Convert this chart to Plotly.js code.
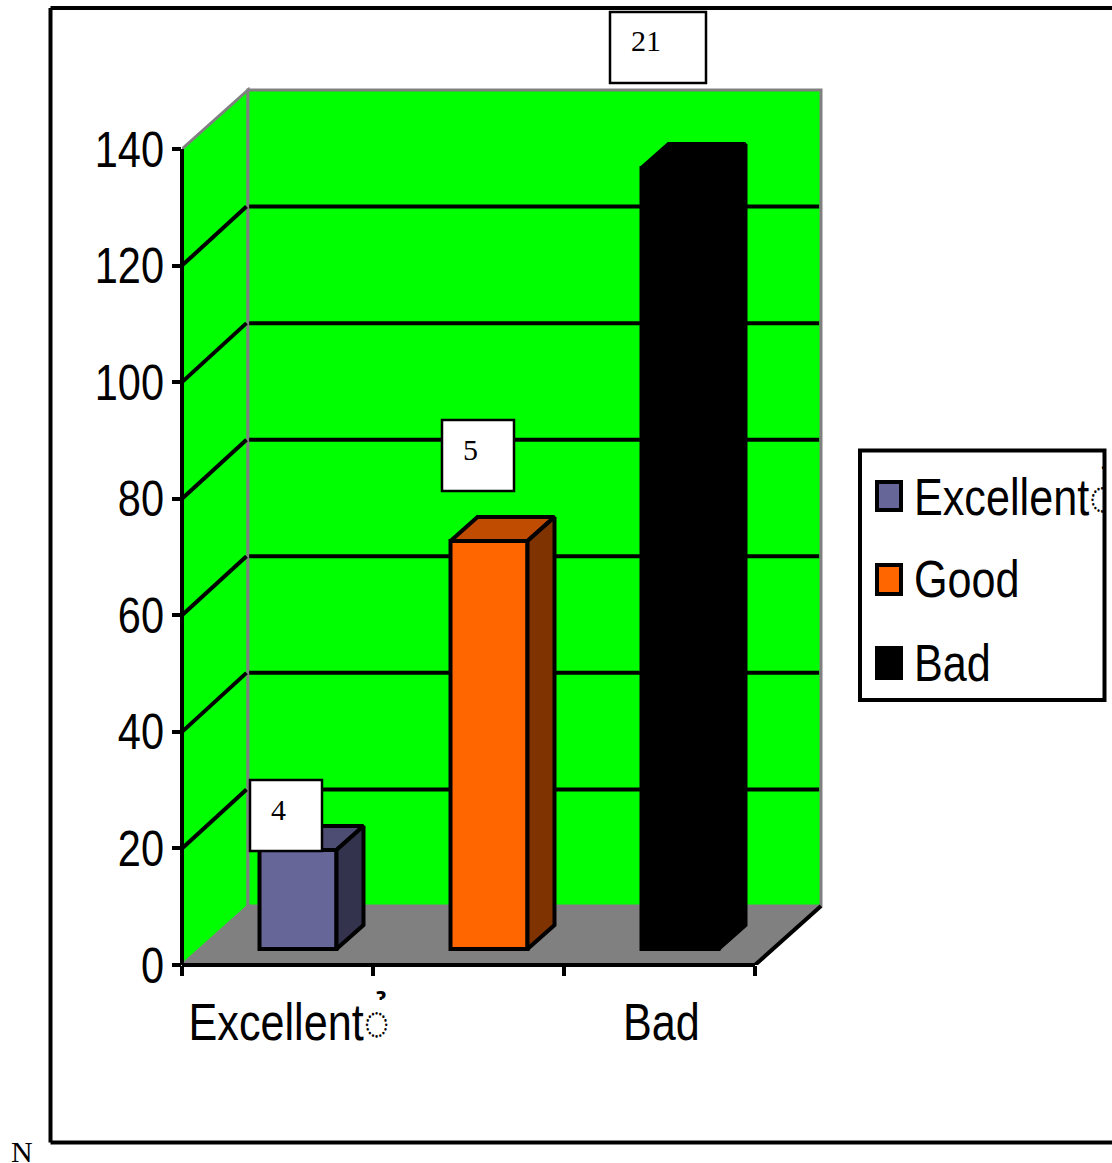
<!DOCTYPE html>
<html>
<head>
<meta charset="utf-8">
<script src="https://cdn.plot.ly/plotly-3.0.1.min.js"></script>
<style>html,body{margin:0;padding:0;background:#fff}</style>
</head>
<body>
<div id="chart" style="width:1112px;height:1163px"></div>
<script>
// Ratings and their bar heights
const categories = ["Excellent", "Good", "Bad"];
const values = [17, 70, 134];
const frontColors = ["#666699", "#ff6600", "#000000"];
const topColors = ["#4d4d73", "#bf4c00", "#000000"];
const sideColors = ["#33334d", "#7f3300", "#000000"];
const boxLabels = ["4", "5", "21"];
const yTicks = [0, 20, 40, 60, 80, 100, 120, 140];
const excellentLabel = "Excellent\u25CC\u0309";

// Plot frame in page pixels; the y axis sits on its left edge, the floor on its bottom edge
const W = 1112, H = 1163, L = 182, B = 965, R = 825, T = 87;
const pxPerCat = 191, pxPerUnit = 816 / 140;
const xMin = -0.5;
const paperX = p => (p - L) / (R - L);
const paperY = p => (B - p) / (B - T);

// Oblique projection offsets of the room and of each column, in axis units
const roomDx = 66 / pxPerCat, roomDy = 59 / pxPerUnit;
const barDx = 27 / pxPerCat, barDy = 24 / pxPerUnit;
const barShift = 20.5 / pxPerCat, barBase = 16 / pxPerUnit, barWidth = 77 / pxPerCat;
const xEnd = xMin + 3, yTop = 140;

const sans = '"Liberation Sans", Arial, sans-serif';
const serif = '"Liberation Serif", "Times New Roman", serif';
const poly = pts => "M" + pts.map(p => p[0] + "," + p[1]).join("L") + "Z";

const shapes = [];
const room = (path, fill, color, width) => shapes.push({
  type: "path", xref: "x", yref: "y", layer: "below", path,
  fillcolor: fill, line: { color, width }
});
// Side wall, back wall, floor
room(poly([[xMin, 0], [xMin + roomDx, roomDy], [xMin + roomDx, yTop + roomDy], [xMin, yTop]]), "#00ff00", "#808080", 3);
room(poly([[xMin + roomDx, roomDy], [xEnd + roomDx, roomDy], [xEnd + roomDx, yTop + roomDy], [xMin + roomDx, yTop + roomDy]]), "#00ff00", "#808080", 3);
room(poly([[xMin, 0], [xEnd, 0], [xEnd + roomDx, roomDy], [xMin + roomDx, roomDy]]), "#808080", "#808080", 1);

// Gridlines fold from the side wall onto the back wall
yTicks.slice(1, -1).forEach(v => {
  const line = (x0, y0, x1, y1) => shapes.push({
    type: "line", xref: "x", yref: "y", layer: "below", x0, y0, x1, y1,
    line: { color: "#000", width: 4 }
  });
  line(xMin, v, xMin + roomDx - 0.008, v + roomDy);
  line(xMin + roomDx + 0.006, v + roomDy, xEnd + roomDx - 0.01, v + roomDy);
});
shapes.push({
  type: "line", xref: "x", yref: "y", layer: "below",
  x0: xEnd, y0: 0, x1: xEnd + roomDx, y1: roomDy, line: { color: "#000", width: 4 }
});

const pageRect = (x0, y0, x1, y1, fill, width, layer) => shapes.push({
  type: "rect", xref: "paper", yref: "paper", layer: layer || "above",
  x0: paperX(x0), x1: paperX(x1), y0: paperY(y1), y1: paperY(y0),
  fillcolor: fill, line: { color: "#000", width }
});
const pageLine = (x0, y0, x1, y1) => shapes.push({
  type: "line", xref: "paper", yref: "paper", layer: "above",
  x0: paperX(x0), x1: paperX(x1), y0: paperY(y0), y1: paperY(y1),
  line: { color: "#000", width: 4 }
});

// Outer frame, open on the right
pageLine(50.5, 8, W, 8);
pageLine(50.5, 8, 50.5, 1142.5);
pageLine(50.5, 1142.5, W, 1142.5);

// Front axis lines stop at the top tick and the last category
pageLine(L, B, L, B - yTop * pxPerUnit);
pageLine(L, B, L + 3 * pxPerCat, B);

const annotations = [];
const note = (text, x, y, size, family, extra) => annotations.push(Object.assign({
  text, xref: "paper", yref: "paper", x: paperX(x), y: paperY(y),
  xanchor: "center", yanchor: "middle", showarrow: false,
  font: { family, size, color: "#000" }
}, extra || {}));

// Boxed numbers beside the columns
[[250, 780, 322, 851, 278, 809], [442, 420, 514, 491, 470, 449], [610, 12, 706, 83, 646, 41]]
  .forEach((b, i) => {
    pageRect(b[0], b[1], b[2], b[3], "#ffffff", 2.5);
    note(boxLabels[i], b[4], b[5], 30, serif);
  });
note("N", 22, 1151, 30, serif);

// Legend
pageRect(860, 450.5, 1104.5, 700, "#ffffff", 4);
const legendRows = [[482, 510, 496], [565, 594, 579], [648, 678, 663]];
categories.forEach((c, i) => {
  const r = legendRows[i];
  pageRect(877, r[0], 901, r[1], frontColors[i], 4);
  const text = i === 0 ? excellentLabel : c;
  note(text, 912, r[2], 52, sans, i === 0
    ? { xanchor: "left", width: 190, align: "left" }
    : { xanchor: "left" });
});

const traces = [];
// Front faces of the columns
categories.forEach((c, i) => traces.push({
  type: "bar", name: c, x: [i + barShift], y: [values[i]], base: [barBase],
  width: barWidth, showlegend: false, hoverinfo: "skip",
  marker: { color: frontColors[i], line: { color: "#000", width: 4 } }
}));
// Top and side faces of the columns
const face = (pts, color) => traces.push({
  type: "scatter", mode: "lines", x: pts.map(p => p[0]), y: pts.map(p => p[1]),
  fill: "toself", fillcolor: color, line: { color: "#000", width: 4, shape: "linear" },
  showlegend: false, hoverinfo: "skip", cliponaxis: false
});
categories.forEach((c, i) => {
  const x0 = i + barShift - barWidth / 2, x1 = i + barShift + barWidth / 2;
  const y0 = barBase, y1 = barBase + values[i];
  face([[x0, y1], [x1, y1], [x1 + barDx, y1 + barDy], [x0 + barDx, y1 + barDy], [x0, y1]], topColors[i]);
  face([[x1, y0], [x1, y1], [x1 + barDx, y1 + barDy], [x1 + barDx, y0 + barDy], [x1, y0]], sideColors[i]);
});

const layout = {
  width: W, height: H, paper_bgcolor: "#fff", plot_bgcolor: "rgba(0,0,0,0)",
  margin: { l: L, r: W - R, t: T, b: H - B, pad: 0, autoexpand: false },
  showlegend: false, barmode: "overlay", shapes, annotations,
  xaxis: {
    type: "linear", range: [xMin, xMin + (R - L) / pxPerCat], showgrid: false, zeroline: false,
    showline: false, ticks: "", tickmode: "array", tickvals: [0.06, 2.01],
    ticktext: [excellentLabel, categories[2]], tickangle: 0, ticklabelstandoff: 22,
    tickfont: { family: sans, size: 52, color: "#000" },
    minor: { ticks: "outside", ticklen: 10, tickwidth: 4, tickcolor: "#000", showgrid: false,
             tickmode: "array", tickvals: [-0.5, 0.5, 1.5, 2.5] }
  },
  yaxis: {
    type: "linear", range: [0, (B - T) / pxPerUnit], showgrid: false, zeroline: false,
    showline: false, ticks: "outside", ticklen: 9, tickwidth: 4, tickcolor: "#000",
    tickmode: "array", tickvals: yTicks, ticktext: yTicks.map(String), ticklabelstandoff: -2,
    tickfont: { family: sans, size: 50, color: "#000" }
  }
};

// The sans labels are set condensed: same height, narrower glyphs
const condense = gd => {
  gd.querySelectorAll(".xtick text, .ytick text, .annotation-text").forEach(t => {
    if (!/Sans/.test(t.style.fontFamily)) return;
    const full = t.getComputedTextLength(), narrow = full * 0.83;
    t.setAttribute("textLength", narrow);
    t.setAttribute("lengthAdjust", "spacingAndGlyphs");
    // Centred annotation text keeps its left edge after narrowing
    if (t.classList.contains("annotation-text") && getComputedStyle(t).textAnchor === "middle") {
      t.setAttribute("x", parseFloat(t.getAttribute("x")) - (full - narrow) / 2);
    }
  });
};
Plotly.newPlot("chart", traces, layout, { displayModeBar: false, staticPlot: true }).then(condense);
</script>
</body>
</html>
